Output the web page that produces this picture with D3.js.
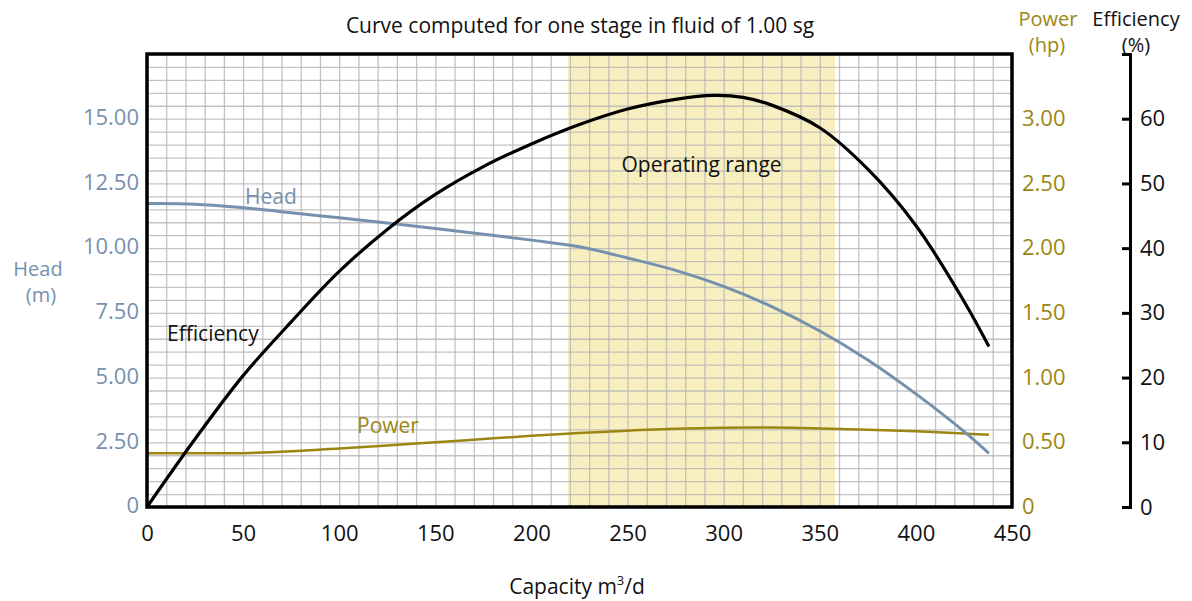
<!DOCTYPE html>
<html>
<head>
<meta charset="utf-8">
<script src="https://d3js.org/d3.v7.min.js"></script>
<style>
    body { margin: 0; background: #fff; }
    svg text { font-family: "Open Sans", sans-serif; }
    .grid line { stroke: #b4b4b4; stroke-width: 1.3px; stroke-opacity: 0.8; }
    .grid path { display: none; }
    .axis path, .axis line { stroke: #000; stroke-width: 3px; }
    .noline path, .noline line { display: none; }
</style>
</head>
<body>
<svg id="chart" width="1192" height="601"></svg>
<script>
    // tick values
    const capacityTicks = [0, 50, 100, 150, 200, 250, 300, 350, 400, 450];
    const headTicks = [0, 2.5, 5, 7.5, 10, 12.5, 15];
    const powerTicks = [0, 0.5, 1, 1.5, 2, 2.5, 3];
    const effTicks = [0, 10, 20, 30, 40, 50, 60];

    // curves (capacity m3/d)
    const headQ = [0, 25, 50, 75, 100, 125, 150, 175, 200, 225, 250, 275, 300, 325, 350, 375, 400, 425, 438];
    const headM = [11.72, 11.7, 11.56, 11.37, 11.17, 10.97, 10.76, 10.54, 10.31, 10.05, 9.62, 9.14, 8.52, 7.74, 6.8, 5.68, 4.37, 2.92, 2.07];

    const powerQ = [0, 25, 50, 75, 100, 125, 150, 175, 200, 225, 250, 275, 300, 325, 350, 375, 400, 425, 438];
    const powerHp = [0.415, 0.415, 0.416, 0.43, 0.452, 0.475, 0.5, 0.525, 0.55, 0.572, 0.59, 0.605, 0.613, 0.614, 0.607, 0.597, 0.585, 0.568, 0.558];

    const effQ = [0, 25, 50, 75, 100, 125, 150, 175, 200, 225, 250, 275, 295, 310, 325, 350, 375, 400, 425, 438];
    const effPct = [0, 10.5, 20.3, 28.6, 36.4, 42.9, 48.3, 52.6, 56.1, 59.1, 61.5, 63.0, 63.6, 63.3, 62.1, 58.6, 52.2, 43.5, 31.8, 24.8];

    const operatingRange = [219, 358];

    const headColor = "#7691ad";
    const powerColor = "#9c8612";

    const svg = d3.select("#chart");
    const plotL = 147, plotR = 1012, plotT = 54, plotB = 507;

    const x = d3.scaleLinear().domain([0, 450]).range([plotL, plotR]);
    const yHead = d3.scaleLinear().domain([0, 17.5]).range([plotB, plotT]);
    const yPower = d3.scaleLinear().domain([0, 3.5]).range([plotB, plotT]);
    const yEff = d3.scaleLinear().domain([0, 70]).range([plotB, plotT]);

    // operating range band
    svg.append("rect")
        .attr("x", x(operatingRange[0]))
        .attr("y", plotT)
        .attr("width", x(operatingRange[1]) - x(operatingRange[0]))
        .attr("height", plotB - plotT)
        .attr("fill", "#f8efc0");

    // grid: every 10 m3/d and every 0.5 m
    svg.append("g")
        .attr("class", "grid")
        .attr("transform", `translate(0,${plotB})`)
        .call(d3.axisBottom(x).ticks(45).tickSize(-(plotB - plotT)).tickFormat(""));
    svg.append("g")
        .attr("class", "grid")
        .attr("transform", `translate(${plotL},0)`)
        .call(d3.axisLeft(yHead).ticks(35).tickSize(-(plotR - plotL)).tickFormat(""));

    svg.append("text")
        .attr("x", (x(operatingRange[0]) + x(operatingRange[1])) / 2)
        .attr("y", 172)
        .attr("text-anchor", "middle")
        .attr("font-size", 21)
        .attr("fill", "#111")
        .text("Operating range");

    // curves
    const mkLine = (q, v, ys) => d3.line()
        .x((d, i) => x(q[i]))
        .y(d => ys(d))
        .curve(d3.curveCatmullRom.alpha(0.5))(v);

    svg.append("path").attr("d", mkLine(powerQ, powerHp, yPower))
        .attr("fill", "none").attr("stroke", powerColor).attr("stroke-width", 2.5);
    svg.append("path").attr("d", mkLine(headQ, headM, yHead))
        .attr("fill", "none").attr("stroke", headColor).attr("stroke-width", 3);
    svg.append("path").attr("d", mkLine(effQ, effPct, yEff))
        .attr("fill", "none").attr("stroke", "#000").attr("stroke-width", 3.2);

    // frame
    svg.append("rect")
        .attr("x", plotL).attr("y", plotT)
        .attr("width", plotR - plotL).attr("height", plotB - plotT)
        .attr("fill", "none").attr("stroke", "#000").attr("stroke-width", 3.5);

    // x axis labels
    svg.append("g")
        .attr("class", "noline")
        .attr("transform", `translate(0,${plotB})`)
        .call(d3.axisBottom(x).tickValues(capacityTicks).tickSize(0).tickPadding(18).tickFormat(d3.format("d")))
        .call(g => g.selectAll("text").attr("font-size", 22).attr("fill", "#111").attr("font-family", "Open Sans"));

    // head axis labels
    svg.append("g")
        .attr("class", "noline")
        .attr("transform", `translate(${plotL},0)`)
        .call(d3.axisLeft(yHead).tickValues(headTicks).tickSize(0).tickPadding(8)
            .tickFormat(d => d === 0 ? "0" : d3.format(".2f")(d)))
        .call(g => g.selectAll("text").attr("font-size", 22).attr("fill", headColor).attr("font-family", "Open Sans").attr("dy", "0.26em"));

    // power axis labels
    svg.append("g")
        .attr("class", "noline")
        .attr("transform", `translate(${plotR},0)`)
        .call(d3.axisRight(yPower).tickValues(powerTicks).tickSize(0).tickPadding(10)
            .tickFormat(d => d === 0 ? "0" : d3.format(".2f")(d)))
        .call(g => g.selectAll("text").attr("font-size", 22).attr("fill", powerColor).attr("font-family", "Open Sans").attr("dy", "0.3em"));

    // efficiency axis
    svg.append("g")
        .attr("class", "axis")
        .attr("transform", "translate(1130,0)")
        .call(d3.axisRight(yEff).tickValues(effTicks).tickSize(-8).tickPadding(10))
        .call(g => g.selectAll("text").attr("font-size", 22).attr("fill", "#111").attr("font-family", "Open Sans"));

    // titles
    svg.append("text").attr("x", 580).attr("y", 33).attr("text-anchor", "middle")
        .attr("font-size", 21).attr("fill", "#111")
        .text("Curve computed for one stage in fluid of 1.00 sg");

    const label = (tx, ty, s, color, anchor, fs) => svg.append("text")
        .attr("x", tx).attr("y", ty).attr("text-anchor", anchor || "middle")
        .attr("font-size", fs || 21).attr("fill", color).text(s);
    label(38, 276, "Head", headColor, "middle", 20);
    label(41, 302, "(m)", headColor, "middle", 20);
    label(1048, 26, "Power", powerColor, "middle", 20);
    label(1047, 52, "(hp)", powerColor, "middle", 20);
    label(1136, 26, "Efficiency", "#111", "middle", 20);
    label(1136, 52, "(%)", "#111", "middle", 20);

    const cap = svg.append("text").attr("x", 577).attr("y", 594).attr("text-anchor", "middle")
        .attr("font-size", 21).attr("fill", "#111");
    cap.append("tspan").text("Capacity m");
    cap.append("tspan").attr("font-size", 13).attr("dy", -9).text("3");
    cap.append("tspan").attr("dy", 9).text("/d");

    // series labels
    label(245, 204, "Head", headColor, "start");
    label(167, 341, "Efficiency", "#111", "start");
    label(357, 433, "Power", powerColor, "start");
</script>
</body>
</html>
